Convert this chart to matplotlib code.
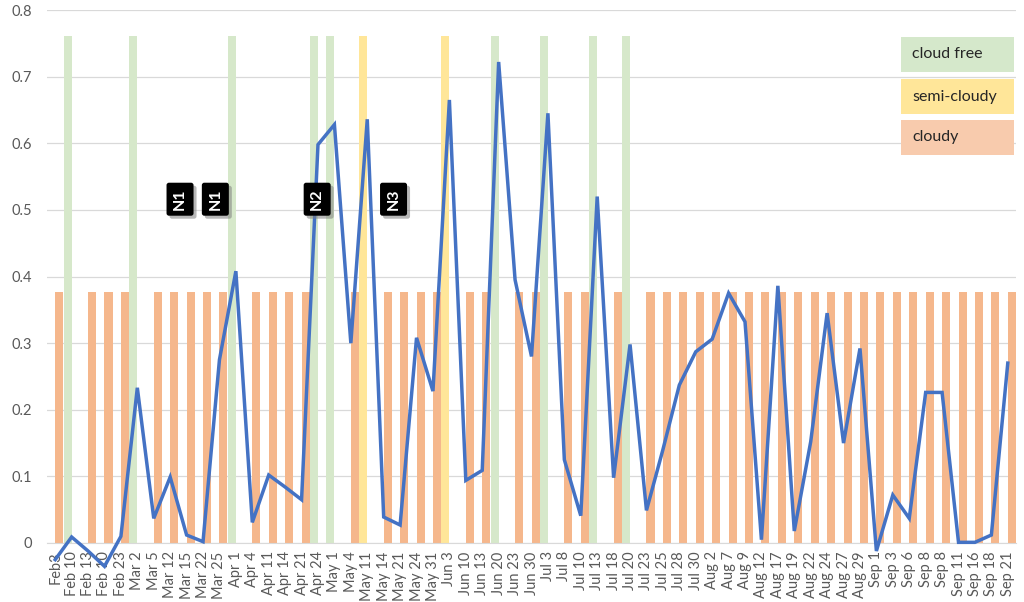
import matplotlib.pyplot as plt
import numpy as np
from matplotlib.patches import FancyBboxPatch

plt.rcParams['font.family'] = ['Lato', 'DejaVu Sans']

'''Chart data'''
dates = ["Feb3", "Feb 10", "Feb 13", "Feb 10", "Feb 23", "Mar 2", "Mar 5", "Mar 12", "Mar 15",
         "Mar 22", "Mar 25", "Apr 1", "Apr 4", "Apr 11", "Apr 14", "Apr 21", "Apr 24", "May 1",
         "May 4", "May 11", "May 14", "May 21", "May 24", "May 31", "Jun 3", "Jun 10", "Jun 13",
         "Jun 20", "Jun 23", "Jun 30", "Jul 3", "Jul 8", "Jul 10", "Jul 13", "Jul 18", "Jul 20",
         "Jul 23", "Jul 25", "Jul 28", "Jul 30", "Aug 2", "Aug 7", "Aug 9", "Aug 12", "Aug 17",
         "Aug 19", "Aug 22", "Aug 24", "Aug 27", "Aug 29", "Sep 1", "Sep 3", "Sep 6", "Sep 8",
         "Sep 8", "Sep 11", "Sep 16", "Sep 18", "Sep 21"]

values = [-0.025, 0.009, -0.012, -0.035, 0.010, 0.233, 0.037, 0.099, 0.012, 0.002, 0.275,
          0.408, 0.031, 0.102, 0.084, 0.065, 0.598, 0.628, 0.300, 0.636, 0.039, 0.027,
          0.308, 0.228, 0.665, 0.094, 0.109, 0.722, 0.395, 0.280, 0.645, 0.125, 0.041,
          0.520, 0.098, 0.298, 0.049, 0.140, 0.237, 0.287, 0.306, 0.375, 0.332, 0.005,
          0.386, 0.018, 0.152, 0.345, 0.150, 0.292, -0.012, 0.072, 0.037, 0.226, 0.226,
          0.001, 0.001, 0.012, 0.270]

# sky condition per date: f = cloud free, s = semi-cloudy, c = cloudy
sky = list("cfccc" "fcccc" "cfccc" "cffcs" "ccccs" "ccfcc" "fccfcf" + "c" * 23)

cloudy_height = 0.377
clear_height = 0.761

text_labels = ["N1", "N1", "N2", "N3"]
text_pos = [7.6, 9.75, 15.95, 20.6]

legend_names = ["cloud free", "semi-cloudy", "cloudy"]

'''Plot'''
fig = plt.figure(figsize=(10.24, 6.02), dpi=100)
ax = fig.add_axes([47 / 1024, 59 / 602, 969 / 1024, 533 / 602])

x = np.arange(len(dates))
sky = np.array(sky)
bw = 0.49
c_free, c_semi, c_cloudy = '#d6e8ca', '#ffe699', '#f5b78c'

cl = np.where(sky == 'c', cloudy_height, 0)
fr = np.where(sky == 'f', clear_height, 0)
se = np.where(sky == 's', clear_height, 0)
ax.bar(x, cl, width=bw, align='edge', color=c_cloudy, zorder=2)
ax.bar(x, fr, width=-bw, align='edge', color=c_free, zorder=2)
ax.bar(x, se, width=-bw, align='edge', color=c_semi, zorder=2)

ax.plot(x, values, color='#4472c4', linewidth=2.5, zorder=4, clip_on=False,
        solid_joinstyle='miter')

ax.set_xlim(-0.5, len(dates) - 0.5)
ax.set_ylim(0, 0.8)
ax.set_yticks(np.arange(0, 0.81, 0.1))
ax.set_yticklabels(["0"] + ["%.1f" % v for v in np.arange(0.1, 0.81, 0.1)])
ax.set_xticks(x)
ax.set_xticklabels(dates, rotation=90)
ax.tick_params(axis='both', length=0, labelsize=10.5, colors='#595959')
ax.tick_params(axis='y', pad=11)
ax.tick_params(axis='x', pad=6)
ax.grid(axis='y', color='#d9d9d9', linewidth=0.9, zorder=0)
ax.set_axisbelow(True)
for s in ['top', 'right', 'left']:
    ax.spines[s].set_visible(False)
ax.spines['bottom'].set_color('#d9d9d9')

# N labels: black rounded boxes with a soft shadow
px_x = 1 / 16.42      # one pixel in category units
px_y = 0.8 / 533      # one pixel in value units
bwid, bhgt = 27 * px_x, 33 * px_y
for lab, cx in zip(text_labels, text_pos):
    cy = 0.516
    sh = FancyBboxPatch((cx - bwid / 2 + 3 * px_x, cy - bhgt / 2 - 3 * px_y), bwid, bhgt,
                        boxstyle='round,pad=0,rounding_size=0.15', mutation_aspect=px_y / px_x,
                        fc='#7f7f7f', ec='none', alpha=0.55, zorder=5)
    ax.add_patch(sh)
    bx = FancyBboxPatch((cx - bwid / 2, cy - bhgt / 2), bwid, bhgt,
                        boxstyle='round,pad=0,rounding_size=0.15', mutation_aspect=px_y / px_x,
                        fc='black', ec='none', zorder=6)
    ax.add_patch(bx)
    ax.text(cx, cy, lab, rotation=90, ha='center', va='center', fontsize=11.5,
            fontweight='bold', color='white', zorder=7)

# colored text boxes used as a legend
box_cols = ['#d5e8cb', '#ffe699', '#f8cbad']
box_tops = [37, 79, 120]
for name, col, top in zip(legend_names, box_cols, box_tops):
    y0 = 1 - (top + 35) / 602
    fig.patches.append(plt.Rectangle((901 / 1024, y0), 113 / 1024, 35 / 602,
                                     transform=fig.transFigure, fc=col, ec='none', zorder=7))
    fig.text(912 / 1024, y0 + 17.5 / 602, name, ha='left', va='center', fontsize=11.5,
             color='#262626', zorder=8)

fig.savefig('out.png', dpi=100)
